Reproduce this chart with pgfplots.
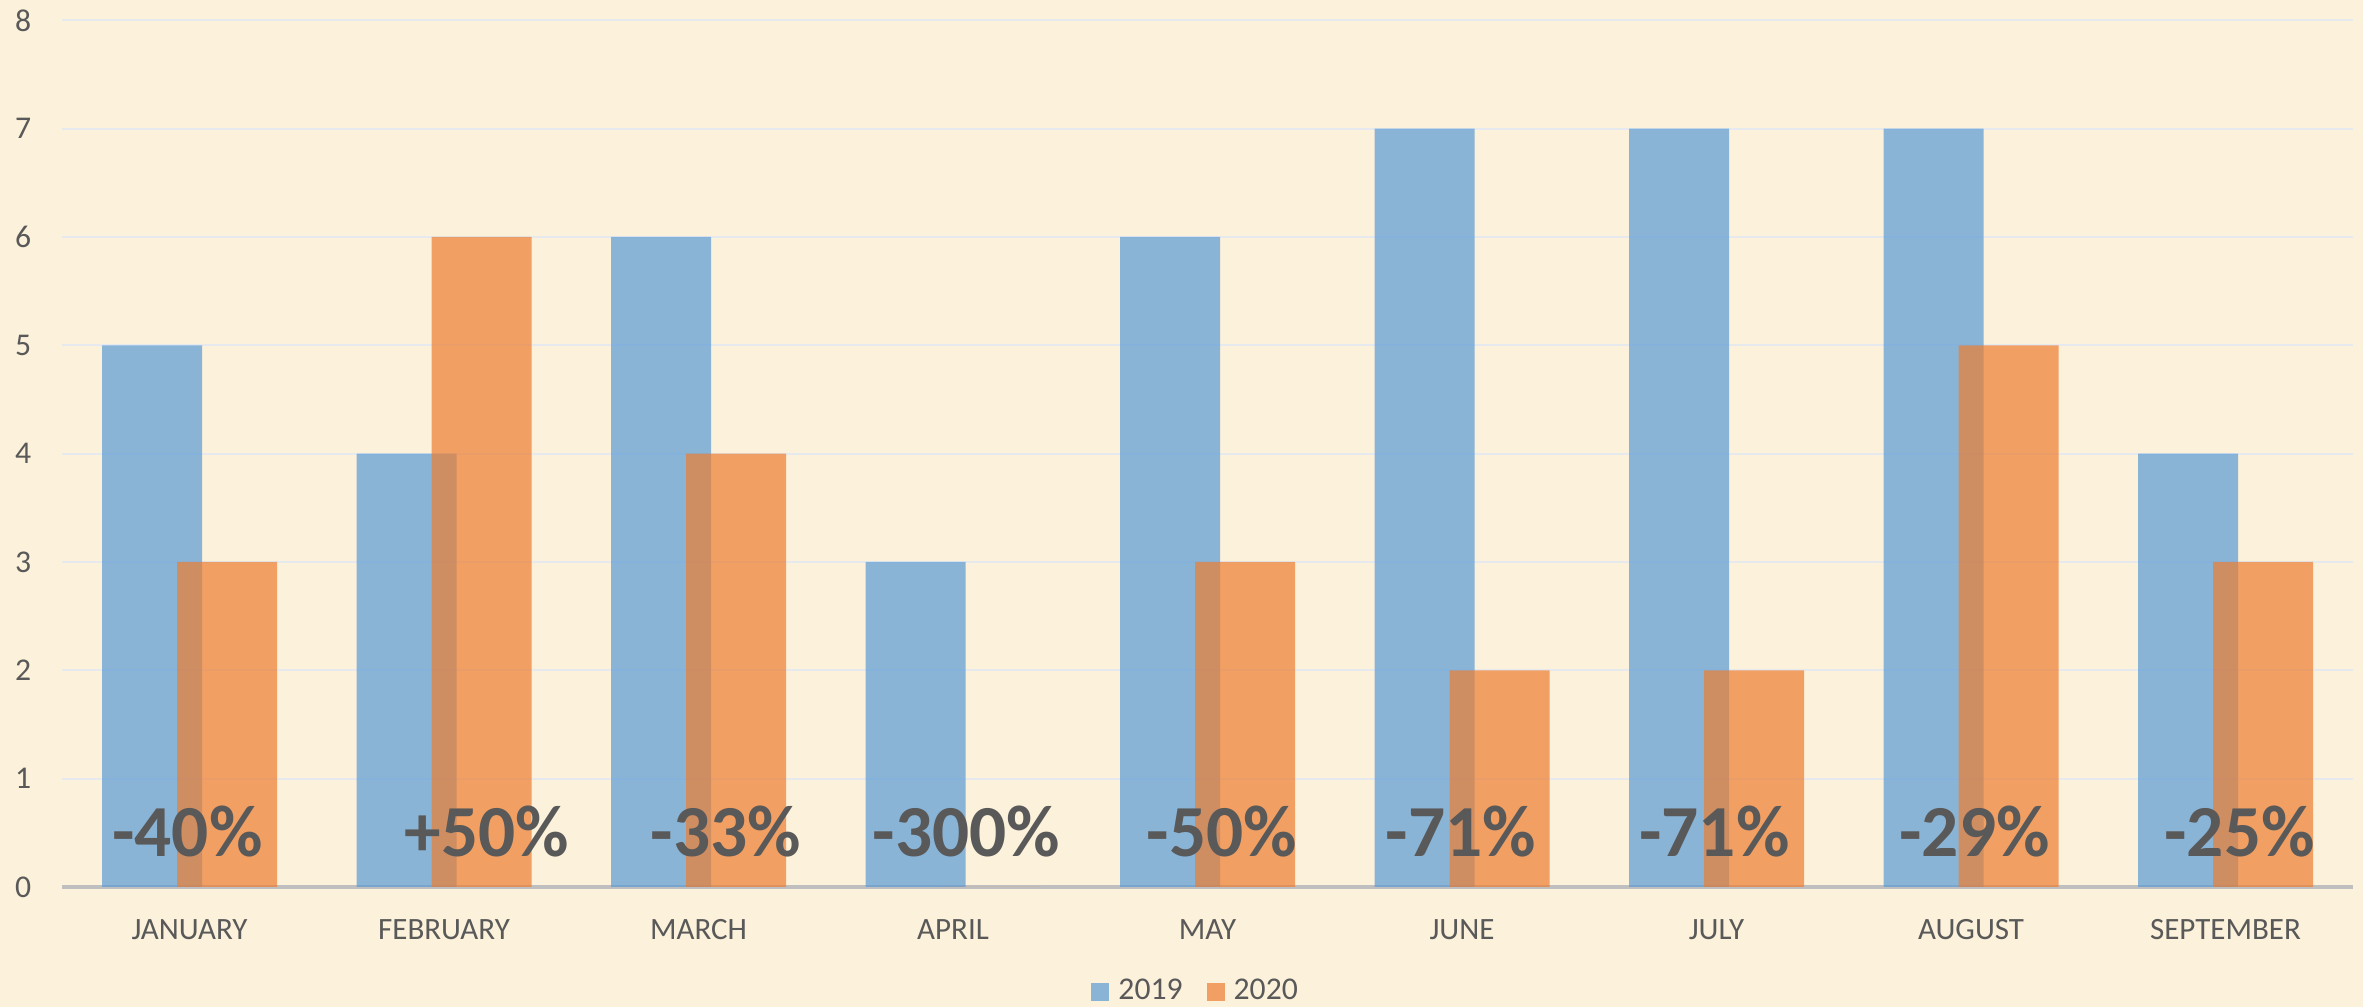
\documentclass[border=0pt]{standalone}
\usepackage{fontspec}
\setmainfont{Carlito}
\usepackage{pgfplots}
\pgfplotsset{compat=1.18}
\definecolor{bg}{RGB}{252,241,218}
\definecolor{b19}{RGB}{91,155,213}
\definecolor{o20}{RGB}{237,125,49}
\definecolor{tg}{RGB}{89,89,89}
\definecolor{gridc}{RGB}{230,234,238}
\definecolor{axc}{RGB}{191,191,191}
\pgfplotsset{sqlegend/.style={legend image code/.code={\fill[##1] (0pt,-2.7pt) rectangle (5.4pt,2.7pt);}}}
\begin{document}
\begin{tikzpicture}
\path[use as bounding box, fill=bg] (0,0) rectangle (708.9pt,302.1pt);
\begin{axis}[
  at={(18.68pt,36pt)}, anchor=south west,
  scale only axis, width=687.15pt, height=260pt,
  xmin=-0.5, xmax=8.5, ymin=0, ymax=8,
  ybar, bar width=30pt,
  xtick={0,...,8},
  xticklabels={JANUARY,FEBRUARY,MARCH,APRIL,MAY,JUNE,JULY,AUGUST,SEPTEMBER},
  ytick={0,...,8}, yticklabels={0,1,2,3,4,5,6,7,8},
  major tick length=0pt,
  xtick style={draw=none}, ytick style={draw=none},
  axis x line*=bottom, axis y line*=left,
  x axis line style={draw=axc, line width=1pt, -},
  y axis line style={draw=none},
  ymajorgrids, grid style={draw=gridc, line width=0.6pt},
  xticklabel style={font=\fontsize{9.3}{10}\selectfont, text=tg, anchor=base, yshift=-15.7pt, inner sep=0pt},
  yticklabel style={font=\fontsize{9.5}{10}\selectfont, text=tg, anchor=east, xshift=-9.1pt, inner sep=0pt},
  legend columns=2,
  legend style={at={(0.4944,-0.1212)}, anchor=center, draw=none, fill=none,
    font=\fontsize{9.5}{10}\selectfont, text=tg, nodes={inner sep=0pt},
    /tikz/every odd column/.append style={column sep=2.7pt},
    /tikz/every even column/.append style={column sep=7.2pt}},
]
\addplot[fill=b19, fill opacity=0.7, draw=none, bar shift=-11.25pt, sqlegend]
  coordinates {(0,5) (1,4) (2,6) (3,3) (4,6) (5,7) (6,7) (7,7) (8,4)};
\addlegendentry{2019}
\addplot[fill=o20, fill opacity=0.7, draw=none, bar shift=11.25pt, sqlegend]
  coordinates {(0,3) (1,6) (2,4) (3,0) (4,3) (5,2) (6,2) (7,5) (8,3)};
\addlegendentry{2020}
\tikzset{pct/.style={font=\fontsize{22}{24}\selectfont\bfseries, text=tg, anchor=base, inner sep=0pt}}
\node[pct] at (axis cs:-0.008,0.277) {-40\%};
\node[pct] at (axis cs:1.169,0.277) {+50\%};
\node[pct] at (axis cs:2.108,0.277) {-33\%};
\node[pct] at (axis cs:3.053,0.277) {-300\%};
\node[pct] at (axis cs:4.057,0.277) {-50\%};
\node[pct] at (axis cs:4.996,0.277) {-71\%};
\node[pct] at (axis cs:5.992,0.277) {-71\%};
\node[pct] at (axis cs:7.014,0.277) {-29\%};
\node[pct] at (axis cs:8.055,0.277) {-25\%};
\end{axis}
\end{tikzpicture}
\end{document}
